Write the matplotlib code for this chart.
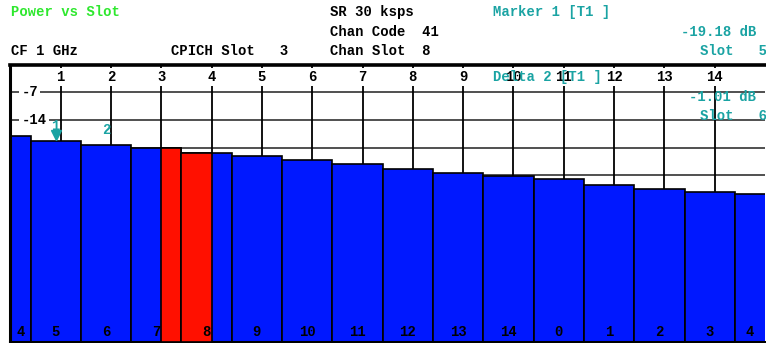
import matplotlib.pyplot as plt

# channel slot numbers shown under the bars (left to right)
slot_labels = [4, 5, 6, 7, 8, 9, 10, 11, 12, 13, 14, 0, 1, 2, 3, 4]
# power per slot in dB
slot_power = [-18.0, -19.18, -20.19, -21.1, -22.2, -23.1, -24.1, -25.2,
              -26.4, -27.4, -28.1, -29.0, -30.3, -31.3, -32.2, -32.7]
# where the first bar starts on the CPICH slot axis
first_edge = -0.6
cpich_slot = 3
x_ticks = list(range(1, 15))
y_grid = [-7, -14, -21, -28, -35, -42, -49, -56, -63]
y_labels = {-7: "-7", -14: "-14"}
y_min, y_max = -70, 0
x_min, x_max = 0, 15

# marker readout
marker_slots = [5, 6]
marker1_value = -19.18
delta2_value = -1.01

W, H = 766, 343
BLUE = "#0018ff"
RED = "#ff1000"
TEAL = "#1aa3a3"
GREEN = "#2ee82e"
MONO = "Liberation Mono"

fig = plt.figure(figsize=(W / 100, H / 100), dpi=100)
ax = fig.add_axes([10.4 / W, 1 - 341.8 / H, (765 - 10.4) / W, (341.8 - 64.6) / H])
ax.set_xlim(x_min, x_max)
ax.set_ylim(y_min, y_max)
ax.set_xticks([])
ax.set_yticks([])
for s in ["top", "left", "bottom"]:
    ax.spines[s].set_linewidth(2.2)
ax.spines["top"].set_linewidth(2.6)
ax.spines["right"].set_visible(False)

# grid
for g in y_grid:
    ax.axhline(g, color="#505050", lw=1.4, zorder=1)
for t in x_ticks:
    ax.axvline(t, color="black", lw=1.3, zorder=1)

# bars
lefts = [first_edge + i for i in range(len(slot_power))]
heights = [p - y_min for p in slot_power]
ax.bar(lefts, heights, width=1, bottom=y_min, align="edge", color=BLUE,
       edgecolor="black", linewidth=1.2, zorder=2)

# CPICH slot highlight
for l, p in zip(lefts, slot_power):
    lo, hi = max(l, cpich_slot), min(l + 1, cpich_slot + 1)
    if hi > lo:
        ax.bar(lo, p - y_min, width=hi - lo, bottom=y_min, align="edge",
               color=RED, edgecolor="black", linewidth=1.2, zorder=3)

# slot numbers at the bottom of the bars
for l, lab in zip(lefts, slot_labels):
    lo, hi = max(l, x_min), min(l + 1, x_max)
    ax.text((lo + hi) / 2, -67.6, str(lab), ha="center", va="center",
            fontsize=10, fontweight="bold", family=MONO, zorder=5)

# tick labels inside the frame
for t in x_ticks:
    ax.text(t, -3.2, str(t), ha="center", va="center", fontsize=10,
            fontweight="bold", family=MONO, zorder=4,
            bbox=dict(facecolor="white", edgecolor="none", pad=1.5))
for v, lab in y_labels.items():
    ax.text(0.22, v, lab, ha="left", va="center", fontsize=10,
            fontweight="bold", family=MONO, zorder=4,
            bbox=dict(facecolor="white", edgecolor="none", pad=1.5))

# markers
m1_x = lefts[slot_labels.index(marker_slots[0])] + 0.5
m1_y = slot_power[slot_labels.index(marker_slots[0])]
m2_x = lefts[slot_labels.index(marker_slots[1])] + 0.5
m2_y = m1_y + delta2_value
ax.plot([m1_x], [m1_y + 1.3], marker="v", color=TEAL, ms=6.5, zorder=6, ls="none")
ax.text(m1_x, m1_y + 3.8, "1", color=TEAL, ha="center", va="center",
        fontsize=10, fontweight="bold", family=MONO, zorder=6)
ax.text(m2_x, m2_y + 3.8, "2", color=TEAL, ha="center", va="center",
        fontsize=10, fontweight="bold", family=MONO, zorder=6)


def ftext(x, y, s, color="black", ha="left"):
    fig.text(x / W, 1 - y / H, s, color=color, ha=ha, va="center",
             fontsize=10, fontweight="bold", family=MONO, zorder=10)


ftext(11, 12, "Power vs Slot", GREEN)
ftext(330, 12, "SR 30 ksps")
ftext(493, 12, "Marker 1 [T1 ]", TEAL)
ftext(330, 32, "Chan Code  41")
ftext(756, 32, f"{marker1_value:.2f} dB", TEAL, ha="right")
ftext(11, 51, "CF 1 GHz")
ftext(171, 51, f"CPICH Slot   {cpich_slot}")
ftext(330, 51, "Chan Slot  8")
ftext(767, 51, f"Slot   {marker_slots[0]}", TEAL, ha="right")
ftext(493, 77, "Delta 2 [T1 ]", TEAL)
ftext(756, 97, f"{delta2_value:.2f} dB", TEAL, ha="right")
ftext(767, 116, f"Slot   {marker_slots[1]}", TEAL, ha="right")

fig.savefig("out.png", dpi=100)
